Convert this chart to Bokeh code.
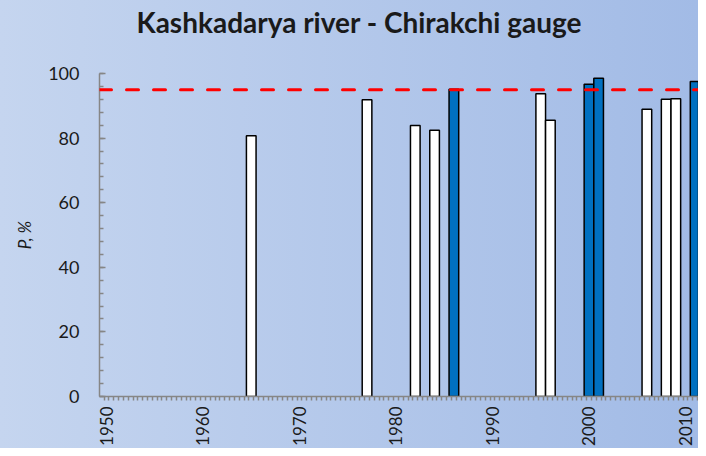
from bokeh.plotting import figure
from bokeh.models import FixedTicker, Span, Range1d, ColumnDataSource, Title
from bokeh.embed import file_html
from bokeh.resources import INLINE

# ---- data ----
years = [1965, 1977, 1982, 1984, 1986, 1995, 1996, 2000, 2001, 2006, 2008, 2009, 2011]
p_values = [80.7, 91.9, 83.9, 82.4, 95.1, 93.7, 85.5, 96.7, 98.5, 88.9, 92.0, 92.2, 97.5]
bar_colors = ["#ffffff", "#ffffff", "#ffffff", "#ffffff", "#0070c0",
              "#ffffff", "#ffffff", "#0070c0", "#0070c0",
              "#ffffff", "#ffffff", "#ffffff", "#0070c0"]
threshold = 95
x_tick_years = [1950, 1960, 1970, 1980, 1990, 2000, 2010]
y_ticks = [0, 20, 40, 60, 80, 100]
title_text = "Kashkadarya river - Chirakchi gauge"
y_label = "P, %"

FONT = "Lato"
TEXT = "#1a1a1a"
AXIS = "#868686"

src = ColumnDataSource(dict(x=years, top=p_values, color=bar_colors))

p = figure(width=698, height=448, output_backend="svg", toolbar_location=None,
           title=None,
           x_range=Range1d(1949.275, 2011.35), y_range=Range1d(0, 100),
           min_border_left=99, min_border_right=0, min_border_top=73,
           min_border_bottom=49)
p.background_fill_color = None
p.border_fill_color = None
p.outline_line_color = None
p.styles = {"background": "linear-gradient(to right, #c5d5ef, #a2bbe6)"}
p.xgrid.visible = False
p.ygrid.visible = False

p.vbar(x="x", top="top", bottom=0, width=1.0, source=src, fill_color="color",
       line_color="black", line_width=1.5)

p.add_layout(Span(location=threshold, dimension="width", line_color="#ff0000",
                  line_width=3, line_dash="12 15", line_cap="round"))

# title: a nearly invisible spacer next to the frame, then the real title above it
spacer = Title(text=".", text_font_size="10px", text_color="#b4c8ea",
               text_alpha=0.02, standoff=25)
p.add_layout(spacer, "above")
main_title = Title(text=title_text, text_font=FONT, text_font_size="28px",
                   text_font_style="bold", text_color=TEXT, align="left",
                   offset=37, standoff=0, vertical_align="bottom")
p.add_layout(main_title, "above")

# x axis
xa = p.xaxis[0]
half_years = [1949.75 + 0.5 * i for i in range(124)]
xa.ticker = FixedTicker(ticks=x_tick_years, minor_ticks=half_years)
xa.major_label_orientation = 1.5707963
xa.major_label_text_font = FONT
xa.major_label_text_font_size = "17px"
xa.major_label_text_color = TEXT
xa.major_label_standoff = 6
xa.axis_line_color = AXIS
xa.axis_line_width = 1.5
xa.major_tick_in = 0
xa.major_tick_out = 0
xa.minor_tick_in = 0
xa.minor_tick_out = 4
xa.minor_tick_line_color = AXIS
xa.minor_tick_line_width = 1.5

# y axis
ya = p.yaxis[0]
ya.ticker = FixedTicker(ticks=y_ticks, minor_ticks=list(range(0, 101, 4)))
ya.major_label_text_font = FONT
ya.major_label_text_font_size = "18px"
ya.major_label_text_color = TEXT
ya.major_label_standoff = 20
ya.axis_line_color = AXIS
ya.axis_line_width = 1.5
ya.major_tick_in = 6
ya.major_tick_out = 0
ya.major_tick_line_color = AXIS
ya.major_tick_line_width = 1.5
ya.minor_tick_in = 4
ya.minor_tick_out = 0
ya.minor_tick_line_color = AXIS
ya.minor_tick_line_width = 1.5
ya.axis_label = y_label
ya.axis_label_text_font = FONT
ya.axis_label_text_font_size = "17px"
ya.axis_label_text_font_style = "italic"
ya.axis_label_text_color = TEXT
ya.axis_label_standoff = 10

open("out.html", "w").write(file_html(p, INLINE))
